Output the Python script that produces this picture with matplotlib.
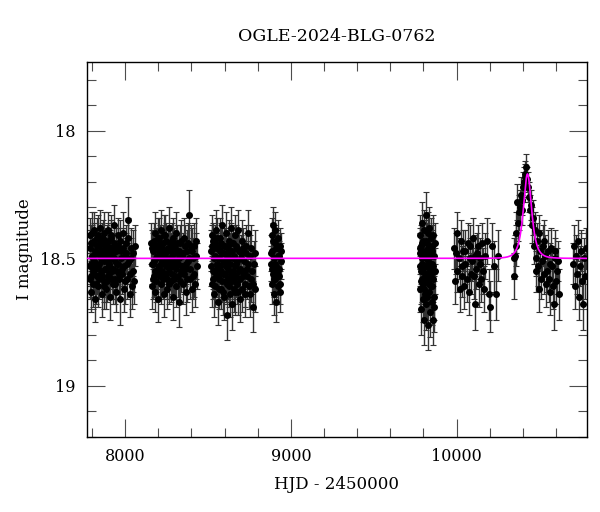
import numpy as np
import matplotlib
matplotlib.use("Agg")
import matplotlib.pyplot as plt
from matplotlib.ticker import MultipleLocator, FormatStrFormatter

# OGLE I-band photometry: (HJD-2450000, I mag, error)
season1 = [(7786, 18.46, 0.07), (7789, 18.58, 0.08), (7791, 18.41, 0.07), (7794, 18.52, 0.06),
           (7797, 18.63, 0.08), (7800, 18.49, 0.07), (7803, 18.44, 0.07), (7806, 18.55, 0.08),
           (7809, 18.60, 0.09), (7812, 18.39, 0.07), (7815, 18.51, 0.06), (7819, 18.47, 0.07),
           (7821, 18.66, 0.09), (7825, 18.53, 0.07), (7828, 18.42, 0.08), (7832, 18.57, 0.07),
           (7835, 18.48, 0.06), (7838, 18.61, 0.08), (7842, 18.45, 0.07), (7845, 18.52, 0.07),
           (7849, 18.38, 0.07), (7852, 18.56, 0.08), (7856, 18.50, 0.06), (7859, 18.64, 0.09),
           (7863, 18.43, 0.07), (7866, 18.49, 0.07), (7870, 18.59, 0.08), (7874, 18.40, 0.08),
           (7877, 18.54, 0.07), (7881, 18.47, 0.06), (7885, 18.62, 0.08), (7889, 18.44, 0.07),
           (7892, 18.51, 0.07), (7896, 18.57, 0.08), (7899, 18.39, 0.07), (7903, 18.53, 0.06),
           (7907, 18.48, 0.07), (7910, 18.65, 0.09), (7914, 18.42, 0.07), (7918, 18.55, 0.07),
           (7922, 18.46, 0.06), (7926, 18.60, 0.08), (7930, 18.50, 0.07), (7934, 18.37, 0.08),
           (7938, 18.58, 0.08), (7943, 18.45, 0.07), (7947, 18.63, 0.08), (7952, 18.52, 0.07),
           (7957, 18.41, 0.07), (7962, 18.56, 0.08), (7968, 18.66, 0.10), (7973, 18.47, 0.07),
           (7979, 18.54, 0.07), (7985, 18.40, 0.08), (7991, 18.62, 0.09), (7997, 18.49, 0.07),
           (8004, 18.44, 0.07), (8011, 18.58, 0.08), (8016, 18.35, 0.09), (8023, 18.51, 0.07),
           (8030, 18.64, 0.09), (8038, 18.46, 0.08), (8046, 18.55, 0.08), (8054, 18.59, 0.09),
           (8060, 18.45, 0.08),
           (7787, 18.53, 0.08), (7792, 18.44, 0.07), (7796, 18.57, 0.08), (7801, 18.40, 0.08),
           (7805, 18.50, 0.07), (7810, 18.56, 0.08), (7814, 18.43, 0.07), (7818, 18.54, 0.08),
           (7823, 18.48, 0.07), (7827, 18.60, 0.08), (7830, 18.45, 0.07), (7834, 18.53, 0.07),
           (7839, 18.41, 0.08), (7843, 18.58, 0.08), (7847, 18.49, 0.07), (7851, 18.44, 0.07),
           (7855, 18.55, 0.08), (7858, 18.47, 0.07), (7862, 18.57, 0.08), (7867, 18.42, 0.07),
           (7871, 18.51, 0.07), (7875, 18.61, 0.09), (7879, 18.45, 0.07), (7883, 18.54, 0.08),
           (7887, 18.49, 0.07), (7891, 18.59, 0.08), (7895, 18.43, 0.07), (7900, 18.52, 0.07),
           (7905, 18.56, 0.08), (7909, 18.46, 0.07), (7913, 18.50, 0.07), (7917, 18.41, 0.08),
           (7921, 18.58, 0.08), (7925, 18.48, 0.07), (7929, 18.54, 0.07), (7933, 18.44, 0.07),
           (7937, 18.51, 0.08), (7941, 18.60, 0.08), (7946, 18.47, 0.07), (7950, 18.55, 0.08),
           (7955, 18.45, 0.07), (7960, 18.52, 0.08), (7965, 18.58, 0.08), (7971, 18.43, 0.08),
           (7976, 18.50, 0.07), (7982, 18.56, 0.08), (7988, 18.46, 0.08), (7994, 18.53, 0.08),
           (8000, 18.59, 0.09), (8007, 18.48, 0.08), (8014, 18.52, 0.08), (8020, 18.42, 0.08),
           (8027, 18.56, 0.09), (8034, 18.50, 0.08), (8042, 18.61, 0.09), (8050, 18.48, 0.09)]

season2 = [(8158, 18.44, 0.08), (8162, 18.61, 0.09), (8166, 18.52, 0.07), (8170, 18.47, 0.07),
           (8174, 18.57, 0.08), (8178, 18.40, 0.08), (8182, 18.63, 0.08), (8186, 18.50, 0.07),
           (8190, 18.45, 0.07), (8194, 18.55, 0.07), (8198, 18.66, 0.09), (8202, 18.42, 0.08),
           (8206, 18.53, 0.07), (8210, 18.48, 0.06), (8214, 18.60, 0.08), (8218, 18.39, 0.08),
           (8222, 18.51, 0.07), (8226, 18.58, 0.08), (8230, 18.44, 0.07), (8234, 18.64, 0.09),
           (8238, 18.49, 0.07), (8242, 18.41, 0.08), (8246, 18.56, 0.07), (8250, 18.47, 0.06),
           (8254, 18.62, 0.08), (8258, 18.52, 0.07), (8262, 18.38, 0.08), (8266, 18.54, 0.07),
           (8270, 18.46, 0.07), (8274, 18.59, 0.08), (8278, 18.50, 0.07), (8282, 18.43, 0.07),
           (8286, 18.65, 0.09), (8290, 18.53, 0.07), (8295, 18.45, 0.07), (8300, 18.57, 0.08),
           (8305, 18.40, 0.08), (8310, 18.61, 0.08), (8315, 18.48, 0.07), (8320, 18.52, 0.07),
           (8325, 18.67, 0.10), (8330, 18.44, 0.07), (8335, 18.55, 0.08), (8341, 18.49, 0.07),
           (8347, 18.60, 0.08), (8353, 18.42, 0.08), (8359, 18.54, 0.07), (8366, 18.63, 0.09),
           (8372, 18.47, 0.08), (8378, 18.51, 0.08), (8384, 18.33, 0.10), (8390, 18.58, 0.08),
           (8397, 18.45, 0.08), (8404, 18.62, 0.09), (8411, 18.50, 0.08), (8418, 18.56, 0.09),
           (8426, 18.43, 0.09), (8434, 18.53, 0.09),
           (8160, 18.52, 0.08), (8164, 18.46, 0.07), (8168, 18.58, 0.08), (8172, 18.43, 0.07),
           (8176, 18.51, 0.07), (8180, 18.55, 0.08), (8184, 18.45, 0.07), (8188, 18.59, 0.08),
           (8192, 18.49, 0.07), (8196, 18.42, 0.08), (8200, 18.54, 0.07), (8204, 18.47, 0.07),
           (8208, 18.57, 0.08), (8212, 18.44, 0.07), (8216, 18.52, 0.07), (8220, 18.46, 0.07),
           (8224, 18.55, 0.08), (8228, 18.50, 0.07), (8232, 18.41, 0.08), (8236, 18.56, 0.08),
           (8240, 18.48, 0.07), (8244, 18.53, 0.07), (8248, 18.43, 0.07), (8252, 18.58, 0.08),
           (8256, 18.46, 0.07), (8260, 18.51, 0.07), (8264, 18.60, 0.08), (8268, 18.44, 0.07),
           (8272, 18.53, 0.07), (8276, 18.47, 0.07), (8280, 18.56, 0.08), (8284, 18.49, 0.07),
           (8288, 18.42, 0.08), (8292, 18.58, 0.08), (8297, 18.51, 0.07), (8302, 18.46, 0.07),
           (8307, 18.54, 0.08), (8312, 18.44, 0.07), (8317, 18.57, 0.08), (8323, 18.50, 0.07),
           (8328, 18.47, 0.07), (8333, 18.59, 0.08), (8338, 18.43, 0.08), (8344, 18.53, 0.08),
           (8350, 18.48, 0.08), (8356, 18.56, 0.08), (8362, 18.45, 0.08), (8369, 18.52, 0.08),
           (8375, 18.58, 0.09), (8381, 18.44, 0.08), (8387, 18.50, 0.08), (8394, 18.54, 0.09),
           (8401, 18.47, 0.09), (8408, 18.57, 0.09), (8415, 18.45, 0.09), (8422, 18.60, 0.09),
           (8430, 18.49, 0.09)]

season3 = [(8518, 18.47, 0.08), (8522, 18.60, 0.09), (8526, 18.41, 0.08), (8530, 18.55, 0.07),
           (8534, 18.50, 0.07), (8538, 18.64, 0.09), (8542, 18.44, 0.07), (8546, 18.57, 0.08),
           (8550, 18.39, 0.08), (8554, 18.52, 0.07), (8558, 18.67, 0.09), (8562, 18.46, 0.07),
           (8566, 18.58, 0.08), (8570, 18.42, 0.08), (8574, 18.53, 0.07), (8578, 18.62, 0.08),
           (8582, 18.48, 0.07), (8586, 18.37, 0.08), (8590, 18.56, 0.07), (8594, 18.45, 0.07),
           (8598, 18.65, 0.09), (8602, 18.51, 0.07), (8606, 18.40, 0.08), (8610, 18.59, 0.08),
           (8614, 18.49, 0.07), (8617, 18.72, 0.10), (8621, 18.54, 0.07), (8625, 18.43, 0.08),
           (8629, 18.61, 0.08), (8633, 18.47, 0.07), (8637, 18.38, 0.08), (8641, 18.56, 0.07),
           (8645, 18.68, 0.10), (8649, 18.50, 0.07), (8653, 18.44, 0.07), (8657, 18.58, 0.08),
           (8661, 18.41, 0.08), (8665, 18.63, 0.09), (8669, 18.52, 0.07), (8673, 18.46, 0.07),
           (8678, 18.60, 0.08), (8683, 18.39, 0.08), (8688, 18.55, 0.07), (8693, 18.66, 0.09),
           (8698, 18.48, 0.07), (8703, 18.43, 0.08), (8709, 18.57, 0.08), (8715, 18.51, 0.07),
           (8721, 18.64, 0.09), (8727, 18.45, 0.08), (8733, 18.54, 0.08), (8740, 18.40, 0.09),
           (8747, 18.61, 0.09), (8754, 18.49, 0.08), (8761, 18.58, 0.09), (8769, 18.69, 0.10),
           (8777, 18.52, 0.09), (8784, 18.62, 0.09),
           (8520, 18.53, 0.08), (8524, 18.45, 0.08), (8528, 18.58, 0.08), (8532, 18.43, 0.07),
           (8536, 18.55, 0.08), (8540, 18.49, 0.07), (8544, 18.61, 0.08), (8548, 18.46, 0.07),
           (8552, 18.54, 0.07), (8556, 18.42, 0.08), (8560, 18.57, 0.08), (8564, 18.50, 0.07),
           (8568, 18.62, 0.08), (8572, 18.47, 0.07), (8576, 18.55, 0.07), (8580, 18.44, 0.08),
           (8584, 18.59, 0.08), (8588, 18.51, 0.07), (8592, 18.63, 0.09), (8596, 18.48, 0.07),
           (8600, 18.56, 0.08), (8604, 18.45, 0.07), (8608, 18.53, 0.07), (8612, 18.60, 0.08),
           (8619, 18.46, 0.07), (8623, 18.58, 0.08), (8627, 18.50, 0.07), (8631, 18.64, 0.09),
           (8635, 18.52, 0.07), (8639, 18.44, 0.08), (8643, 18.59, 0.08), (8647, 18.47, 0.07),
           (8651, 18.55, 0.08), (8655, 18.62, 0.09), (8659, 18.49, 0.07), (8663, 18.53, 0.08),
           (8667, 18.45, 0.08), (8671, 18.57, 0.08), (8676, 18.51, 0.07), (8681, 18.63, 0.09),
           (8686, 18.47, 0.08), (8691, 18.54, 0.08), (8696, 18.58, 0.08), (8701, 18.50, 0.08),
           (8706, 18.62, 0.09), (8712, 18.46, 0.08), (8718, 18.55, 0.08), (8724, 18.60, 0.09),
           (8730, 18.48, 0.08), (8737, 18.57, 0.09), (8744, 18.52, 0.09), (8751, 18.64, 0.09),
           (8758, 18.46, 0.09), (8765, 18.55, 0.09), (8773, 18.60, 0.10), (8781, 18.48, 0.09)]

season4 = [(8881, 18.52, 0.07), (8884, 18.41, 0.07), (8887, 18.60, 0.08), (8889, 18.47, 0.06),
           (8892, 18.56, 0.07), (8894, 18.37, 0.07), (8897, 18.64, 0.08), (8899, 18.50, 0.06),
           (8902, 18.44, 0.07), (8905, 18.58, 0.07), (8907, 18.39, 0.07), (8910, 18.53, 0.06),
           (8913, 18.67, 0.08), (8916, 18.46, 0.07), (8919, 18.55, 0.07), (8922, 18.42, 0.07),
           (8925, 18.61, 0.07), (8928, 18.49, 0.06), (8931, 18.57, 0.07), (8934, 18.45, 0.07),
           (8937, 18.63, 0.08), (8940, 18.51, 0.07),
           (8883, 18.48, 0.07), (8888, 18.54, 0.07), (8893, 18.43, 0.07), (8898, 18.58, 0.07),
           (8903, 18.52, 0.07), (8908, 18.46, 0.07), (8914, 18.56, 0.07), (8920, 18.49, 0.07),
           (8926, 18.54, 0.07), (8932, 18.60, 0.08), (8938, 18.47, 0.07)]

season5 = [(9777, 18.48, 0.08), (9779, 18.62, 0.09), (9781, 18.41, 0.08), (9783, 18.55, 0.08),
           (9785, 18.70, 0.10), (9787, 18.45, 0.08), (9789, 18.58, 0.09), (9791, 18.36, 0.08),
           (9793, 18.52, 0.08), (9795, 18.66, 0.09), (9797, 18.43, 0.08), (9799, 18.60, 0.09),
           (9801, 18.49, 0.08), (9803, 18.74, 0.10), (9805, 18.39, 0.08), (9807, 18.56, 0.08),
           (9809, 18.47, 0.08), (9811, 18.64, 0.09), (9813, 18.33, 0.09), (9815, 18.53, 0.08),
           (9817, 18.68, 0.10), (9819, 18.44, 0.08), (9821, 18.59, 0.09), (9823, 18.50, 0.08),
           (9825, 18.76, 0.10), (9827, 18.40, 0.08), (9829, 18.57, 0.08), (9831, 18.46, 0.08),
           (9833, 18.63, 0.09), (9835, 18.38, 0.08), (9837, 18.54, 0.08), (9839, 18.71, 0.10),
           (9841, 18.48, 0.08), (9843, 18.61, 0.09), (9845, 18.42, 0.08), (9847, 18.56, 0.08),
           (9849, 18.67, 0.09), (9851, 18.45, 0.08), (9853, 18.52, 0.08), (9855, 18.74, 0.10),
           (9857, 18.41, 0.08), (9860, 18.58, 0.09), (9863, 18.49, 0.08), (9866, 18.65, 0.09),
           (9869, 18.44, 0.08), (9872, 18.55, 0.09),
           (9778, 18.53, 0.08), (9782, 18.46, 0.08), (9786, 18.59, 0.09), (9790, 18.50, 0.08),
           (9794, 18.44, 0.08), (9798, 18.55, 0.08), (9802, 18.62, 0.09), (9806, 18.48, 0.08),
           (9810, 18.53, 0.08), (9814, 18.43, 0.08), (9818, 18.57, 0.09), (9822, 18.65, 0.09),
           (9826, 18.51, 0.08), (9830, 18.46, 0.08), (9834, 18.60, 0.09), (9838, 18.52, 0.08),
           (9842, 18.55, 0.08), (9846, 18.49, 0.08), (9850, 18.61, 0.09), (9854, 18.47, 0.08),
           (9858, 18.53, 0.08), (9862, 18.69, 0.10)]

season6 = [(9984, 18.46, 0.08), (9990, 18.59, 0.09), (9994, 18.48, 0.08), (10000, 18.40, 0.08),
           (10004, 18.55, 0.08), (10012, 18.50, 0.08), (10018, 18.62, 0.09), (10024, 18.43, 0.08),
           (10030, 18.57, 0.08), (10034, 18.53, 0.08), (10040, 18.47, 0.08), (10044, 18.61, 0.09),
           (10050, 18.52, 0.08), (10054, 18.47, 0.08), (10062, 18.58, 0.09), (10068, 18.44, 0.08),
           (10074, 18.63, 0.09), (10080, 18.50, 0.08), (10084, 18.45, 0.08), (10090, 18.56, 0.08),
           (10094, 18.51, 0.08), (10100, 18.42, 0.08), (10104, 18.57, 0.09), (10110, 18.49, 0.08),
           (10114, 18.68, 0.10), (10120, 18.54, 0.08), (10124, 18.48, 0.08), (10130, 18.45, 0.08),
           (10134, 18.60, 0.09), (10140, 18.50, 0.08), (10144, 18.52, 0.08), (10150, 18.58, 0.09),
           (10154, 18.44, 0.08), (10160, 18.55, 0.09), (10164, 18.62, 0.09), (10172, 18.49, 0.09),
           (10184, 18.43, 0.09), (10194, 18.64, 0.10), (10204, 18.69, 0.10), (10214, 18.45, 0.09),
           (10224, 18.53, 0.10), (10236, 18.64, 0.10), (10250, 18.49, 0.10)]

season7 = [(10344, 18.50, 0.08), (10348, 18.57, 0.09), (10352, 18.49, 0.08), (10356, 18.45, 0.08),
           (10360, 18.40, 0.08), (10366, 18.28, 0.07), (10370, 18.36, 0.07), (10376, 18.32, 0.07),
           (10382, 18.30, 0.07), (10386, 18.25, 0.07), (10392, 18.31, 0.06), (10396, 18.27, 0.06),
           (10402, 18.22, 0.06), (10408, 18.20, 0.06), (10412, 18.18, 0.05), (10416, 18.17, 0.05),
           (10422, 18.14, 0.05), (10428, 18.19, 0.05), (10434, 18.22, 0.06), (10440, 18.26, 0.06),
           (10446, 18.31, 0.06), (10452, 18.29, 0.06), (10456, 18.37, 0.07), (10460, 18.34, 0.07),
           (10466, 18.45, 0.07), (10472, 18.39, 0.07), (10478, 18.50, 0.07), (10482, 18.55, 0.08),
           (10486, 18.43, 0.07), (10490, 18.53, 0.08), (10496, 18.40, 0.07), (10500, 18.62, 0.09),
           (10504, 18.47, 0.08), (10510, 18.58, 0.08), (10516, 18.51, 0.08), (10520, 18.45, 0.08),
           (10526, 18.43, 0.08), (10530, 18.56, 0.08), (10536, 18.49, 0.08), (10542, 18.60, 0.09),
           (10546, 18.55, 0.08), (10552, 18.47, 0.08), (10556, 18.58, 0.09), (10562, 18.52, 0.08),
           (10566, 18.63, 0.09), (10572, 18.46, 0.08), (10576, 18.53, 0.08), (10582, 18.61, 0.09),
           (10586, 18.68, 0.10), (10592, 18.50, 0.08), (10596, 18.47, 0.08), (10602, 18.59, 0.09),
           (10606, 18.55, 0.09), (10612, 18.51, 0.08), (10618, 18.64, 0.10)]

season8 = [(10704, 18.52, 0.08), (10710, 18.45, 0.08), (10716, 18.61, 0.09), (10722, 18.49, 0.08),
           (10728, 18.56, 0.08), (10734, 18.43, 0.08), (10740, 18.65, 0.09), (10746, 18.53, 0.08),
           (10752, 18.47, 0.08), (10758, 18.59, 0.09), (10764, 18.68, 0.10), (10770, 18.50, 0.08),
           (10776, 18.57, 0.09), (10782, 18.46, 0.08)]

# point-lens fit shown in magenta
I_base = 18.50
t0 = 10428.0
tE = 30.0
u0 = 0.98

obs = np.array(season1 + season2 + season3 + season4 +
               season5 + season6 + season7 + season8)
hjd, mag, err = obs[:, 0], obs[:, 1], obs[:, 2]

tt = np.linspace(7770, 10786, 3000)
u = np.sqrt(u0**2 + ((tt - t0) / tE)**2)
A = (u**2 + 2) / (u * np.sqrt(u**2 + 4))
model = I_base - 2.5 * np.log10(A)

plt.rcParams['font.family'] = ['DejaVu Serif']

fig = plt.figure(figsize=(6.0, 5.12), dpi=100)
ax = fig.add_axes([0.145, 0.1465, 0.833, 0.7325])

ax.errorbar(hjd, mag, yerr=err, fmt='o', color='black', ms=4.0,
            ecolor='0.2', elinewidth=1.0, capsize=2.2, capthick=0.8, zorder=2)
ax.plot(tt, model, color='#ff00ff', lw=1.2, zorder=3)

ax.set_xlim(7770, 10786)
ax.set_ylim(19.2, 17.73)

ax.xaxis.set_major_locator(MultipleLocator(1000))
ax.xaxis.set_minor_locator(MultipleLocator(200))
ax.yaxis.set_major_locator(MultipleLocator(0.5))
ax.yaxis.set_minor_locator(MultipleLocator(0.1))
ax.yaxis.set_major_formatter(FormatStrFormatter('%g'))

ax.tick_params(which='both', direction='in', top=True, right=True,
               color='0.3', width=0.8, labelsize=11.5, pad=8)
ax.tick_params(which='major', length=13)
ax.tick_params(which='minor', length=6.5)
for sp in ax.spines.values():
    sp.set_linewidth(1.0)

ax.set_xlabel('HJD - 2450000', fontsize=12, labelpad=8)
ax.set_ylabel('I magnitude', fontsize=12, labelpad=5)
ax.set_title('OGLE-2024-BLG-0762', fontsize=12.5, pad=15)

fig.savefig('out.png', dpi=100)
